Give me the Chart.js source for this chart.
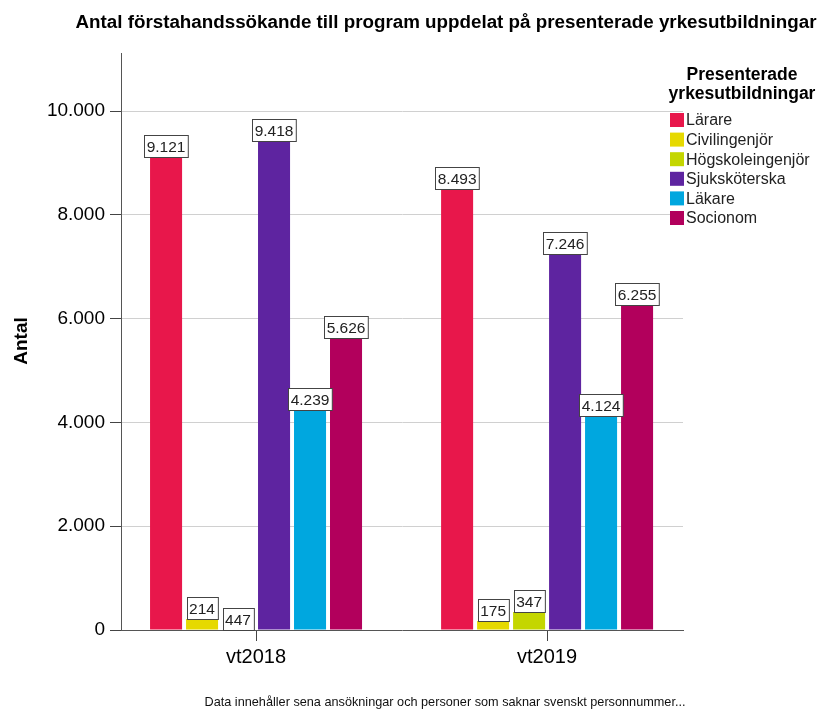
<!DOCTYPE html>
<html>
<head>
<meta charset="utf-8">
<script src="https://cdn.jsdelivr.net/npm/chart.js@4.4.1/dist/chart.umd.min.js"></script>
<style>
  html, body { margin: 0; padding: 0; background: #fff; }
  #wrap { width: 820px; height: 709px; }
</style>
</head>
<body>
<div id="wrap"><canvas id="chart" width="820" height="709"></canvas></div>
<script>
// categories and series
const terms = ['vt2018', 'vt2019'];
const larare = [9121, 8493];
const civilingenjor = [214, 175];
const hogskoleingenjor = [0, 347];        // vt2018 bar is not drawn in the original
const hogskoleLabels = [447, 347];         // ...but its label says 447
const sjukskoterska = [9418, 7246];
const lakare = [4239, 4124];
const socionom = [5626, 6255];
const yTicks = [0, 2000, 4000, 6000, 8000, 10000];

const chartTitle = 'Antal förstahandssökande till program uppdelat på presenterade yrkesutbildningar';
const legendTitle = ['Presenterade', 'yrkesutbildningar'];
const yTitle = 'Antal';
const footnote = 'Data innehåller sena ansökningar och personer som saknar svenskt personnummer...';

const fmt = v => String(v).replace(/\B(?=(\d{3})+(?!\d))/g, '.');

const FONT = '"Liberation Sans", Arial, sans-serif';

const datasets = [
  { label: 'Lärare', data: larare, backgroundColor: '#E8174B' },
  { label: 'Civilingenjör', data: civilingenjor, backgroundColor: '#E6D900' },
  { label: 'Högskoleingenjör', data: hogskoleingenjor, backgroundColor: '#C4D600', labels: hogskoleLabels },
  { label: 'Sjuksköterska', data: sjukskoterska, backgroundColor: '#5E24A0' },
  { label: 'Läkare', data: lakare, backgroundColor: '#00A7DF' },
  { label: 'Socionom', data: socionom, backgroundColor: '#B2005C' }
];

// value boxes above each bar
const valueBoxes = {
  id: 'valueBoxes',
  afterDatasetsDraw(chart) {
    const ctx = chart.ctx;
    ctx.save();
    ctx.font = '15.5px ' + FONT;
    ctx.textAlign = 'center';
    ctx.textBaseline = 'middle';
    chart.data.datasets.forEach((ds, i) => {
      chart.getDatasetMeta(i).data.forEach((bar, j) => {
        const val = ds.labels ? ds.labels[j] : ds.data[j];
        const txt = fmt(val);
        const w = ctx.measureText(txt).width + 5;
        const h = 22;
        const x = Math.round(bar.x - w / 2) + 0.5;
        const y = Math.round(bar.y - h) + 0.5;
        ctx.fillStyle = '#fff';
        ctx.fillRect(x, y, w, h);
        ctx.strokeStyle = '#444';
        ctx.lineWidth = 1;
        ctx.strokeRect(x, y, w, h);
        ctx.fillStyle = '#222';
        ctx.fillText(txt, bar.x, y + h / 2 + 1);
      });
    });
    ctx.restore();
  }
};

// titles, legend, footnote
const decorations = {
  id: 'decorations',
  afterDraw(chart) {
    const ctx = chart.ctx;
    ctx.save();
    ctx.fillStyle = '#000';
    ctx.textBaseline = 'middle';

    ctx.font = 'bold 18.8px ' + FONT;
    ctx.textAlign = 'center';
    ctx.fillText(chartTitle, 446, 23);

    ctx.save();
    ctx.translate(22, 341);
    ctx.rotate(-Math.PI / 2);
    ctx.font = 'bold 19px ' + FONT;
    ctx.fillText(yTitle, 0, 0);
    ctx.restore();

    ctx.font = 'bold 17.5px ' + FONT;
    legendTitle.forEach((t, k) => ctx.fillText(t, 742, 75 + k * 19));

    ctx.textAlign = 'left';
    ctx.font = '16px ' + FONT;
    chart.data.datasets.forEach((ds, i) => {
      const y = 120 + i * 19.6;
      ctx.fillStyle = ds.backgroundColor;
      ctx.fillRect(670, y - 7, 14, 14);
      ctx.fillStyle = '#222';
      ctx.fillText(ds.label, 686, y + 1);
    });

    ctx.font = '12.7px ' + FONT;
    ctx.textAlign = 'center';
    ctx.fillStyle = '#111';
    ctx.fillText(footnote, 445, 702);
    ctx.restore();
  }
};

new Chart(document.getElementById('chart'), {
  type: 'bar',
  data: { labels: terms, datasets },
  options: {
    responsive: false,
    animation: false,
    layout: { padding: { left: 0, right: 137, top: 53, bottom: 0 } },
    datasets: { bar: { categoryPercentage: 0.742, barPercentage: 0.89 } },
    plugins: {
      legend: { display: false },
      title: { display: false },
      tooltip: { enabled: false }
    },
    scales: {
      x: {
        grid: { drawOnChartArea: false, offset: false, color: '#444', tickLength: 11 },
        border: { color: '#555', width: 1 },
        ticks: { color: '#000', font: { family: FONT, size: 20 }, padding: 4 },
        // the original leaves less room at the sides than a category axis does
        afterBuildTicks: s => { s._startValue = -0.464; s._valueRange = 1.931; },
        afterFit: s => { s.height = 79; }
      },
      y: {
        min: 0,
        max: 11120,
        afterBuildTicks: s => { s.ticks = yTicks.map(v => ({ value: v })); },
        grid: {
          color: ctx => ctx.tick && ctx.tick.value === 0 ? 'rgba(0,0,0,0)' : '#d0d0d0',
          tickColor: '#444',
          tickLength: 11
        },
        border: { color: '#555', width: 1 },
        ticks: {
          color: '#000',
          font: { family: FONT, size: 19 },
          padding: 5,
          callback: v => fmt(v)
        },
        afterFit: s => { s.width = 121; }
      }
    }
  },
  plugins: [valueBoxes, decorations]
});
</script>
</body>
</html>
